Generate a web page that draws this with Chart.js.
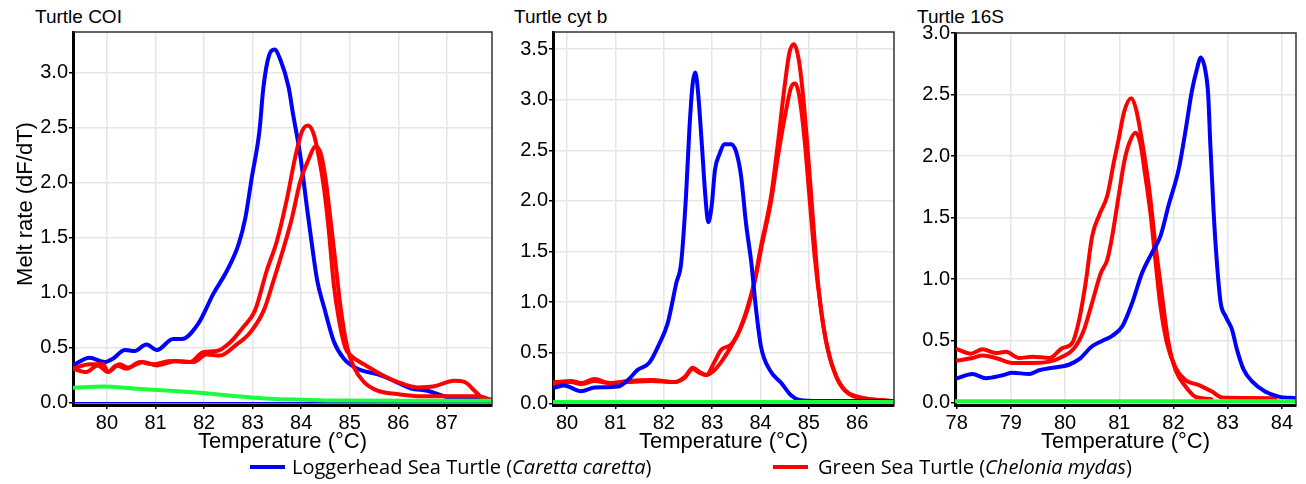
<!DOCTYPE html>
<html>
<head>
<meta charset="utf-8">
<script src="https://cdn.jsdelivr.net/npm/chart.js@4"></script>
<style>
  body { margin: 0; background: #fff; font-family: "Liberation Sans", Arial, sans-serif; }
  #wrap { position: relative; width: 1306px; height: 484px; overflow: hidden; }
  canvas { position: absolute; top: 0; }
  .ttl { position: absolute; top: 6px; font-size: 19px; color: #000; }
  .ytl { position: absolute; left: -75px; top: 191px; width: 200px; text-align: center;
         font-size: 22px; line-height: 26px; transform: rotate(-90deg); color: #000; }
  .leg { position: absolute; top: 453px; font-family: "Open Sans", sans-serif; font-size: 20px; color: #000; white-space: nowrap; }
  .sw { position: absolute; height: 4px; width: 35px; top: 465px; }
</style>
</head>
<body>
<div id="wrap">
  <div class="ttl" style="left:35px">Turtle COI</div>
  <div class="ttl" style="left:514px">Turtle cyt b</div>
  <div class="ttl" style="left:917px">Turtle 16S</div>
  <canvas id="coi" width="496" height="460" style="left:0px"></canvas>
  <canvas id="cyt" width="393" height="460" style="left:505px"></canvas>
  <canvas id="r16" width="390" height="460" style="left:910px"></canvas>
  <div class="ytl">Melt rate (dF/dT)</div>
  <div class="sw" style="left:250px;background:#0000ff"></div>
  <div class="leg" style="left:292px">Loggerhead Sea Turtle (<i>Caretta caretta</i>)</div>
  <div class="sw" style="left:773px;background:#ff0000"></div>
  <div class="leg" style="left:818px">Green Sea Turtle (<i>Chelonia mydas</i>)</div>
</div>
<script>
// ---- Turtle COI ----
const coiRange = [79.3, 87.93];
const coiYRange = [-0.02, 3.37];
const coiXTicks = [80, 81, 82, 83, 84, 85, 86, 87];
const coiYTicks = [0, 0.5, 1.0, 1.5, 2.0, 2.5, 3.0];
const coiLogT = [79.30,79.64,79.95,80.12,80.37,80.57,80.81,81.03,81.36,81.54,81.88,82.19,82.47,82.71,82.85,82.98,83.14,83.22,83.34,83.45,83.57,83.74,83.83,83.98,84.12,84.22,84.33,84.47,84.67,84.88,85.16,85.64,85.91,86.26,86.60,87.02,87.50,87.95];
const coiLogY = [0.34,0.41,0.37,0.40,0.48,0.47,0.53,0.48,0.58,0.58,0.72,0.99,1.20,1.44,1.68,2.04,2.47,2.86,3.16,3.21,3.12,2.87,2.63,2.25,1.77,1.44,1.11,0.87,0.56,0.40,0.31,0.25,0.20,0.13,0.11,0.05,0.03,0.03];
const coiGrnAT = [79.30,79.57,79.81,80.02,80.19,80.40,80.68,80.95,81.30,81.71,81.98,82.26,82.54,82.81,83.05,83.29,83.50,83.71,83.88,84.02,84.14,84.26,84.37,84.47,84.57,84.67,84.78,84.91,85.02,85.29,85.64,85.98,86.40,86.74,87.15,87.36,87.57,87.74,87.95];
const coiGrnAY = [0.31,0.28,0.34,0.28,0.34,0.31,0.37,0.35,0.38,0.37,0.46,0.47,0.55,0.69,0.84,1.20,1.47,1.86,2.24,2.47,2.52,2.44,2.22,1.95,1.56,1.08,0.75,0.50,0.43,0.35,0.26,0.19,0.14,0.15,0.20,0.19,0.11,0.04,0.02];
const coiGrnBT = [79.30,79.64,79.92,80.02,80.26,80.43,80.74,81.02,81.43,81.78,82.05,82.33,82.64,82.95,83.23,83.43,83.64,83.81,83.98,84.16,84.29,84.40,84.50,84.60,84.71,84.81,84.95,85.09,85.29,85.57,85.98,86.46,87.15,87.64,87.95];
const coiGrnBY = [0.31,0.35,0.35,0.28,0.35,0.32,0.37,0.34,0.38,0.37,0.44,0.43,0.52,0.64,0.84,1.11,1.41,1.68,2.01,2.22,2.33,2.27,2.04,1.68,1.26,0.87,0.50,0.32,0.19,0.11,0.08,0.06,0.06,0.06,0.02];
const coiNtcT = [79.30,79.92,80.61,81.30,81.98,82.67,83.36,84.05,84.74,86.12,87.95];
const coiNtcY = [0.136,0.148,0.127,0.11,0.088,0.06,0.036,0.027,0.02,0.018,0.018];

// ---- Turtle cyt b ----
const cytRange = [79.71, 86.76];
const cytYRange = [-0.017, 3.67];
const cytXTicks = [80, 81, 82, 83, 84, 85, 86];
const cytYTicks = [0, 0.5, 1.0, 1.5, 2.0, 2.5, 3.0, 3.5];
const cytLogT = [79.74,79.94,80.29,80.57,81.05,81.26,81.46,81.70,81.91,82.08,82.26,82.36,82.46,82.53,82.60,82.65,82.70,82.79,82.86,82.92,82.99,83.06,83.15,83.26,83.39,83.50,83.60,83.70,83.81,83.91,84.01,84.19,84.43,84.63,84.81,85.19,86.74];
const cytLogY = [0.155,0.175,0.12,0.155,0.165,0.23,0.33,0.40,0.59,0.79,1.19,1.39,2.05,2.71,3.17,3.27,3.12,2.54,2.05,1.79,1.95,2.31,2.46,2.56,2.56,2.48,2.24,1.78,1.39,0.92,0.56,0.33,0.20,0.08,0.033,0.023,0.023];
const cytGrnAT = [79.74,80.08,80.29,80.57,80.88,81.26,81.74,82.22,82.43,82.60,82.74,82.88,83.05,83.19,83.39,83.57,83.74,83.88,84.01,84.22,84.36,84.50,84.60,84.69,84.79,84.88,84.98,85.08,85.19,85.29,85.43,85.60,85.81,86.08,86.43,86.74];
const cytGrnAY = [0.21,0.22,0.20,0.24,0.20,0.22,0.23,0.21,0.26,0.35,0.31,0.28,0.41,0.53,0.58,0.73,0.96,1.22,1.55,2.05,2.57,3.14,3.47,3.55,3.40,3.04,2.48,1.85,1.19,0.79,0.46,0.23,0.10,0.05,0.033,0.023];
const cytGrnBT = [79.74,80.08,80.29,80.57,80.88,81.26,81.74,82.22,82.43,82.60,82.74,82.88,83.05,83.19,83.39,83.57,83.74,83.88,84.01,84.22,84.36,84.53,84.63,84.72,84.80,84.91,85.01,85.12,85.26,85.39,85.57,85.74,86.01,86.43,86.74];
const cytGrnBY = [0.19,0.21,0.19,0.22,0.20,0.21,0.22,0.21,0.25,0.34,0.30,0.28,0.33,0.41,0.56,0.72,0.94,1.20,1.52,2.00,2.44,2.90,3.12,3.16,3.04,2.61,2.05,1.45,0.90,0.53,0.26,0.13,0.066,0.033,0.023];
const cytNtcT = [79.71, 86.76];
const cytNtcY = [0.012, 0.012];

// ---- Turtle 16S ----
const r16Range = [77.97, 84.26];
const r16YRange = [-0.022, 3.0];
const r16XTicks = [78, 79, 80, 81, 82, 83, 84];
const r16YTicks = [0, 0.5, 1.0, 1.5, 2.0, 2.5, 3.0];
const r16LogT = [78.02,78.29,78.54,78.85,79.03,79.34,79.52,79.77,80.07,80.26,80.50,80.69,80.87,81.06,81.24,81.42,81.61,81.76,81.91,82.10,82.22,82.34,82.44,82.50,82.59,82.64,82.68,82.74,82.80,82.87,82.96,83.08,83.17,83.29,83.45,83.69,83.94,84.25];
const r16LogY = [0.196,0.23,0.196,0.22,0.24,0.23,0.26,0.28,0.305,0.35,0.455,0.50,0.54,0.62,0.81,1.05,1.22,1.35,1.60,1.90,2.20,2.53,2.72,2.80,2.69,2.50,2.09,1.55,1.14,0.81,0.70,0.59,0.43,0.27,0.17,0.087,0.046,0.033];
const r16GrnAT = [78.02,78.26,78.48,78.72,78.91,79.15,79.40,79.71,79.95,80.13,80.26,80.38,80.50,80.63,80.78,80.90,80.99,81.09,81.22,81.31,81.42,81.55,81.67,81.79,81.91,82.04,82.22,82.40,82.70];
const r16GrnAY = [0.43,0.395,0.43,0.40,0.41,0.36,0.37,0.36,0.44,0.48,0.67,0.97,1.35,1.52,1.68,1.95,2.14,2.36,2.47,2.38,2.12,1.74,1.27,0.86,0.48,0.26,0.13,0.046,0.025];
const r16GrnBT = [78.02,78.29,78.48,78.72,79.03,79.40,79.71,79.95,80.17,80.35,80.50,80.66,80.78,80.87,80.99,81.09,81.18,81.30,81.39,81.48,81.58,81.67,81.76,81.88,82.04,82.22,82.47,82.71,82.90,83.88];
const r16GrnBY = [0.34,0.36,0.38,0.36,0.32,0.32,0.33,0.37,0.44,0.59,0.81,1.05,1.16,1.35,1.68,1.95,2.10,2.19,2.10,1.84,1.52,1.14,0.78,0.48,0.28,0.18,0.14,0.087,0.038,0.033];
const r16NtcT = [77.97, 84.26];
const r16NtcY = [0.008, 0.008];

const BLUE = "#0000ff";
const RED = "#ff0000";
const GREEN = "#19ff3c";

Chart.defaults.font.family = "'Liberation Sans', Arial, sans-serif";
Chart.defaults.color = "#000";

function pts(t, y) {
  return t.map((v, i) => ({ x: v, y: y[i] }));
}

function curve(t, y, color, w) {
  return {
    data: pts(t, y),
    borderColor: color,
    borderWidth: w || 4,
    pointRadius: 0,
    cubicInterpolationMode: "monotone",
    borderCapStyle: "round",
    borderJoinStyle: "round",
    fill: false,
  };
}

// thin top/right frame around the plot
const framePlugin = {
  id: "frame",
  afterDraw(chart) {
    const { ctx, chartArea: a } = chart;
    ctx.save();
    ctx.strokeStyle = "#333";
    ctx.lineWidth = 1.5;
    ctx.beginPath();
    ctx.moveTo(a.left, a.top);
    ctx.lineTo(a.right, a.top);
    ctx.lineTo(a.right, a.bottom);
    ctx.stroke();
    ctx.restore();
  },
};

function makePanel(id, o) {
  new Chart(document.getElementById(id), {
    type: "line",
    data: { datasets: o.datasets },
    options: {
      responsive: false,
      animation: false,
      events: [],
      layout: { padding: { top: o.top, right: 4, left: 0, bottom: 0 } },
      plugins: { legend: { display: false }, tooltip: { enabled: false } },
      scales: {
        x: {
          type: "linear",
          min: o.xRange[0],
          max: o.xRange[1],
          afterBuildTicks: (s) => { s.ticks = o.xTicks.map((v) => ({ value: v })); },
          afterFit: (s) => { s.height = 55; },
          ticks: { font: { size: 20 }, padding: 2, maxRotation: 0, callback: (v) => String(v) },
          grid: { color: "#e6e6e6", lineWidth: 1.5, tickColor: "#000", tickLength: 4 },
          border: { color: "#000", width: 3 },
          title: { display: true, text: "Temperature (\u00b0C)", font: { size: 22 }, padding: { top: 0, bottom: 5 } },
        },
        y: {
          type: "linear",
          min: o.yRange[0],
          max: o.yRange[1],
          afterBuildTicks: (s) => { s.ticks = o.yTicks.map((v) => ({ value: v })); },
          afterFit: (s) => { s.width = o.yWidth; },
          ticks: { font: { size: 20 }, padding: 1, callback: (v) => v.toFixed(1) },
          grid: { color: "#e6e6e6", lineWidth: 1.5, tickColor: "#000", tickLength: 4 },
          border: { color: "#000", width: 3 },
        },
      },
    },
    plugins: [framePlugin],
  });
}

makePanel("coi", {
  top: 32, yWidth: 73, xRange: coiRange, yRange: coiYRange, xTicks: coiXTicks, yTicks: coiYTicks,
  datasets: [
    curve(coiNtcT, coiNtcY, GREEN),
    curve(coiRange, [0, 0], BLUE, 1.5),
    curve(coiGrnAT, coiGrnAY, RED),
    curve(coiGrnBT, coiGrnBY, RED),
    curve(coiLogT, coiLogY, BLUE),
  ],
});

makePanel("cyt", {
  top: 32, yWidth: 48, xRange: cytRange, yRange: cytYRange, xTicks: cytXTicks, yTicks: cytYTicks,
  datasets: [
    curve(cytNtcT, cytNtcY, GREEN),
    curve(cytRange, [0, 0], "#004466", 1.5),
    curve(cytLogT, cytLogY, BLUE),
    curve(cytGrnAT, cytGrnAY, RED),
    curve(cytGrnBT, cytGrnBY, RED),
  ],
});

makePanel("r16", {
  top: 33, yWidth: 45, xRange: r16Range, yRange: r16YRange, xTicks: r16XTicks, yTicks: r16YTicks,
  datasets: [
    curve(r16NtcT, r16NtcY, GREEN),
    curve(r16Range, [0, 0], "#004466", 1.5),
    curve(r16LogT, r16LogY, BLUE),
    curve(r16GrnAT, r16GrnAY, RED),
    curve(r16GrnBT, r16GrnBY, RED),
  ],
});
</script>
</body>
</html>
